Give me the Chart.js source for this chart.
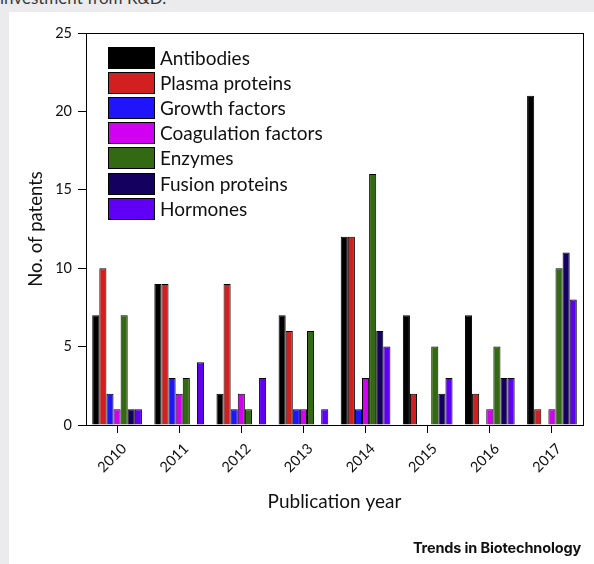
<!DOCTYPE html>
<html>
<head>
<meta charset="utf-8">
<script src="https://cdn.jsdelivr.net/npm/chart.js@4.4.1/dist/chart.umd.min.js"></script>
<style>
  html, body { margin:0; padding:0; }
  body { width:594px; height:564px; background:#ebebed; position:relative; overflow:hidden; font-family:Lato, "Open Sans", sans-serif; }
  #caption { position:absolute; left:0; top:-11px; font-size:17px; line-height:17px; color:#3a3a3a; white-space:nowrap; }
  #panel { position:absolute; left:9px; top:12px; right:0; bottom:0; background:#fff; }
  #chart { position:absolute; left:0; top:0; }
  #brand { position:absolute; right:13px; top:539px; font-family:Inter, "Liberation Sans", sans-serif; font-weight:700; font-size:14.5px; letter-spacing:-0.15px; color:#111; }
</style>
</head>
<body>
<div id="caption">investment from R&amp;D.</div>
<div id="panel"></div>
<canvas id="chart" width="594" height="564"></canvas>
<div id="brand">Trends in Biotechnology</div>
<script>
const years = ['2010','2011','2012','2013','2014','2015','2016','2017'];
const seriesNames = ['Antibodies','Plasma proteins','Growth factors','Coagulation factors','Enzymes','Fusion proteins','Hormones'];
const seriesColors = ['#000000','#d21f1f','#1f14fa','#d200f0','#346914','#14005f','#5f00f5'];

const antibodies = [7, 9, 2, 7, 12, 7, 7, 21];
const plasma     = [10, 9, 9, 6, 12, 2, 2, 1];
const growth     = [2, 3, 1, 1, 1, 0, 0, 0];
const coagulation= [1, 2, 2, 1, 3, 0, 1, 1];
const enzymes    = [7, 3, 1, 6, 16, 5, 5, 10];
const fusion     = [1, 0, 0, 0, 6, 2, 3, 11];
const hormones   = [1, 4, 3, 1, 5, 3, 3, 8];
const allSeries = [antibodies, plasma, growth, coagulation, enzymes, fusion, hormones];

const yTicks = [0, 5, 10, 15, 20, 25];

const datasets = allSeries.map((vals, i) => ({
  label: seriesNames[i],
  data: vals,
  backgroundColor: seriesColors[i],
  borderColor: '#000',
  borderWidth: 1,
  categoryPercentage: 0.8,
  barPercentage: 1.0
}));

// box around the plot
const framePlugin = {
  id: 'frame',
  afterDatasetsDraw(chart){
    const {ctx, chartArea:a} = chart;
    ctx.save();
    ctx.strokeStyle = '#000';
    ctx.lineWidth = 1;
    ctx.strokeRect(Math.round(a.left)+0.5, Math.round(a.top)+0.5, Math.round(a.right-a.left), Math.round(a.bottom-a.top));
    ctx.restore();
  }
};

// legend drawn inside the plot, top-left
const innerLegend = {
  id: 'innerLegend',
  afterDraw(chart){
    const {ctx, chartArea:a} = chart;
    const x = a.left + 22, y0 = a.top + 14, step = 25.1, bw = 47, bh = 22;
    ctx.save();
    ctx.font = '19px Lato';
    ctx.textBaseline = 'middle';
    chart.data.datasets.forEach((ds, i) => {
      const y = Math.round(y0 + i*step);
      ctx.fillStyle = ds.backgroundColor;
      ctx.fillRect(x, y, bw, bh);
      ctx.strokeStyle = '#000';
      ctx.lineWidth = 1;
      ctx.strokeRect(x+0.5, y+0.5, bw-1, bh-1);
      ctx.fillStyle = '#111';
      ctx.fillText(ds.label, x + bw + 5, y + bh/2 + 1);
    });
    ctx.restore();
  }
};

new Chart(document.getElementById('chart'), {
  type: 'bar',
  data: { labels: years, datasets },
  options: {
    responsive: false,
    animation: false,
    devicePixelRatio: 1,
    layout: { padding: { top: 33, right: 11, left: 0, bottom: 0 } },
    plugins: { legend: { display: false }, tooltip: { enabled: false } },
    scales: {
      x: {
        grid: { offset: false, drawOnChartArea: false, drawTicks: true, tickLength: 8, color: '#000' },
        border: { display: true, color: '#000' },
        ticks: { color: '#111', font: { family: 'Lato', size: 14.5 }, minRotation: 45, maxRotation: 45, padding: 7, labelOffset: 7 },
        title: { display: true, text: 'Publication year', color: '#111', font: { family: 'Lato', size: 19 }, padding: { top: 0, bottom: 51 } },
        afterFit: s => { s.height = 139; }
      },
      y: {
        min: 0, max: 25,
        afterBuildTicks: s => { s.ticks = yTicks.map(v => ({ value: v })); },
        grid: { drawOnChartArea: false, drawTicks: true, tickLength: 8, color: '#000' },
        border: { display: true, color: '#000' },
        ticks: { color: '#111', font: { family: 'Lato', size: 14.5 }, padding: 6 },
        title: { display: true, text: 'No. of patents', color: '#111', font: { family: 'Lato', size: 18.5 }, padding: { top: 25, bottom: 0 } },
        afterFit: s => { s.width = 86; }
      }
    }
  },
  plugins: [framePlugin, innerLegend]
});
</script>
</body>
</html>
